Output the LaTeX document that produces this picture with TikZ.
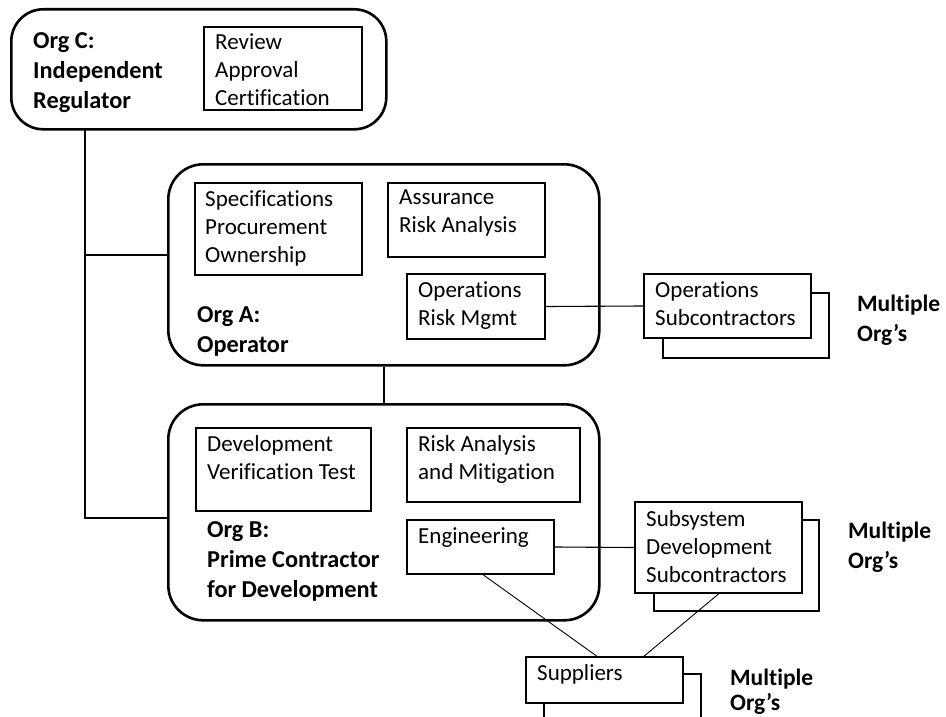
\documentclass[tikz,border=0pt]{standalone}
\usepackage{fontspec}
\setmainfont{Carlito}[Ligatures={NoCommon}]
\usetikzlibrary{calc}
\begin{document}
\begin{tikzpicture}[x=1pt,y=-1pt,
  org/.style={draw, line width=2.6pt, rounded corners=32pt, anchor=north west, inner sep=0pt},
  unit/.style={draw, line width=2pt, fill=white, anchor=north west, inner sep=0pt},
  txt/.style={anchor=north west, inner sep=0pt, align=left, font=\fontsize{23}{28}\selectfont},
  head/.style={anchor=north west, inner sep=0pt, align=left, font=\fontsize{24.3}{30}\selectfont\bfseries},
  trunk/.style={line width=2pt},
  link/.style={line width=1.1pt},
]
\fill[white] (0,0) rectangle (946,717);
\useasboundingbox (0,0) rectangle (946,717);

% ---- Org C: regulator ----
\node[org, minimum width=375pt, minimum height=120pt] (orgC) at (10,8) {};
\node[head] (orgCt) at (33,32) {Org C:\\Independent\\Regulator};
\node[unit, minimum width=158pt, minimum height=83pt] (review) at (203,26) {};
\node[txt] (reviewt) at ($(review.north west)+(12,7)$) {Review\\Approval\\Certification};

% ---- Org A: operator ----
\node[org, minimum width=431pt, minimum height=201pt, rounded corners=35pt] (orgA) at (167,163) {};
\node[head] (orgAt) at (197,306) {Org A:\\Operator};
\node[unit, minimum width=167pt, minimum height=92pt] (spec) at (194,182) {};
\node[txt] (spect) at ($(spec.north west)+(11,8)$) {Specifications\\Procurement\\Ownership};
\node[unit, minimum width=157pt, minimum height=74pt] (assur) at (387,182) {};
\node[txt] (assurt) at ($(assur.north west)+(12,8)$) {Assurance\\Risk Analysis};
\node[unit, minimum width=138pt, minimum height=65pt] (opsrm) at (406,273) {};
\node[txt] (opsrmt) at ($(opsrm.north west)+(12,8)$) {Operations\\Risk Mgmt};

% operations subcontractors (stacked)
\node[unit, minimum width=166pt, minimum height=65pt] (opssubback) at (662,292) {};
\node[unit, minimum width=167pt, minimum height=64pt] (opssub) at (643,273) {};
\node[txt] (opssubt) at ($(opssub.north west)+(12,8)$) {Operations\\Subcontractors};
\node[head, font=\fontsize{23.5}{30}\selectfont\bfseries] (multi1) at (857,295) {Multiple\\Org’s};

% ---- Org B: prime contractor ----
\node[org, minimum width=431pt, minimum height=216pt, rounded corners=35pt] (orgB) at (167,403) {};
\node[head] (orgBt) at (207,521) {Org B:\\Prime Contractor\\for Development};
\node[unit, minimum width=175pt, minimum height=83pt] (dev) at (195,427) {};
\node[txt] (devt) at ($(dev.north west)+(12,8)$) {Development\\Verification Test};
\node[unit, minimum width=173pt, minimum height=74pt] (risk) at (406,427) {};
\node[txt] (riskt) at ($(risk.north west)+(12,8)$) {Risk Analysis\\and Mitigation};
\node[unit, minimum width=147pt, minimum height=54pt] (eng) at (406,519) {};
\node[txt] (engt) at ($(eng.north west)+(12,8)$) {Engineering};

% subsystem subcontractors (stacked)
\node[unit, minimum width=165pt, minimum height=91pt] (subback) at (653,519) {};
\node[unit, minimum width=167pt, minimum height=91pt] (sub) at (634,501) {};
\node[txt] (subt) at ($(sub.north west)+(12,9)$) {Subsystem\\Development\\Subcontractors};
\node[head, font=\fontsize{23.5}{30}\selectfont\bfseries] (multi2) at (848,522) {Multiple\\Org’s};

% suppliers (stacked, running off the bottom edge)
\begin{scope}
\clip (0,0) rectangle (946,717);
\node[unit, minimum width=157pt, minimum height=80pt] (suppback) at (543,673) {};
\end{scope}
\node[unit, minimum width=157pt, minimum height=46pt] (supp) at (525,656) {};
\node[txt] (suppt) at ($(supp.north west)+(12,8)$) {Suppliers};
\node[head, font=\fontsize{23.5}{25}\selectfont\bfseries] (multi3) at (730,669) {Multiple\\Org’s};

% ---- reporting lines ----
\coordinate (trunktop) at (85,128);
\coordinate (branchA) at (167,255);
\coordinate (branchB) at (167,518);
\draw[trunk] (trunktop) |- (branchB);
\draw[trunk] (trunktop |- branchA) -- (branchA);
\draw[trunk] (orgA.south) -- (orgB.north);

\draw[link] (opsrm.east) -- (opssub.west);
\draw[link] (eng.east) -- (sub.west);
\draw[line width=0.9pt] ($(eng.south west)!0.52!(eng.south east)$) -- ($(supp.north west)!0.45!(supp.north east)$);
\draw[line width=0.9pt] (sub.south) -- ($(supp.north west)!0.75!(supp.north east)$);
\end{tikzpicture}
\end{document}
